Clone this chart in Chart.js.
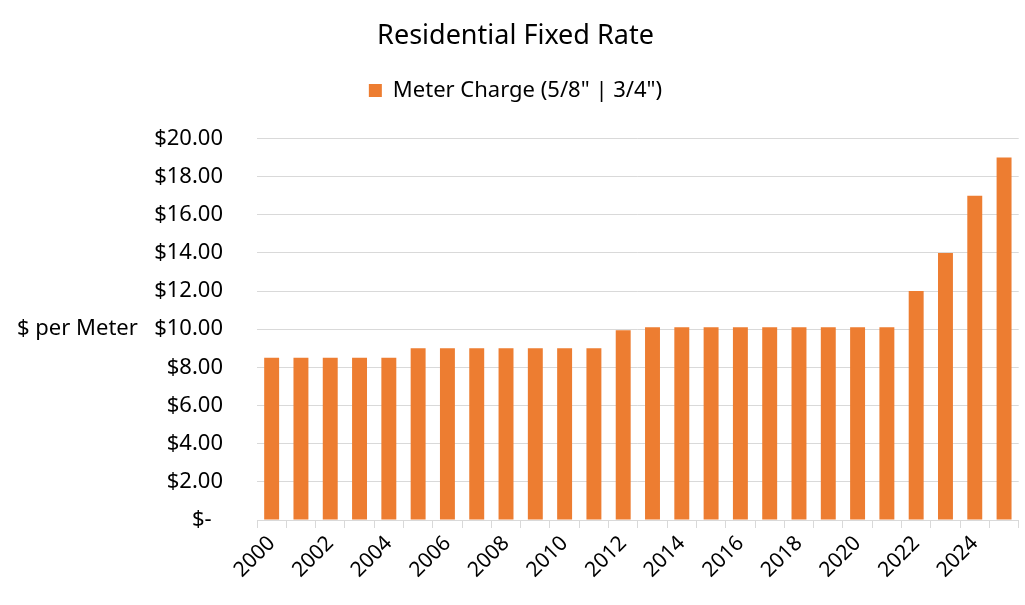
<!DOCTYPE html>
<html>
<head>
<meta charset="utf-8">
<script src="https://cdn.jsdelivr.net/npm/chart.js@4.4.1/dist/chart.umd.min.js"></script>
<style>
  html, body { margin: 0; padding: 0; background: #fff; }
  #wrap { width: 1025px; height: 605px; position: relative; }
</style>
</head>
<body>
<div id="wrap"><canvas id="rateChart"></canvas></div>
<script>
// chart data
const years = ['2000','2001','2002','2003','2004','2005','2006','2007','2008','2009','2010','2011','2012',
               '2013','2014','2015','2016','2017','2018','2019','2020','2021','2022','2023','2024','2025'];
const meterCharge = [8.50, 8.50, 8.50, 8.50, 8.50, 9.00, 9.00, 9.00, 9.00, 9.00, 9.00, 9.00, 9.95,
                     10.10, 10.10, 10.10, 10.10, 10.10, 10.10, 10.10, 10.10, 10.10, 12.00, 14.00, 17.00, 19.00];
const yTicks = [0, 2, 4, 6, 8, 10, 12, 14, 16, 18, 20];

const FONT = "'Noto Sans', sans-serif";
const ORANGE = '#ED7D31';
const GRID = '#d9d9d9';

// horizontal y-axis title, Excel style
const yTitlePlugin = {
    id: 'yTitle',
    afterDraw(chart) {
        const { ctx, chartArea } = chart;
        ctx.save();
        ctx.font = '22px ' + FONT;
        ctx.fillStyle = '#000';
        ctx.textAlign = 'left';
        ctx.textBaseline = 'middle';
        ctx.fillText('$ per Meter', 17, (chartArea.top + chartArea.bottom) / 2);
        ctx.restore();
    }
};

// extra gap under the legend
const legendGapPlugin = {
    id: 'legendGap',
    beforeInit(chart) {
        const origFit = chart.legend.fit;
        chart.legend.fit = function () {
            origFit.bind(chart.legend)();
            this.height += 27;
        };
    }
};

new Chart(document.getElementById('rateChart'), {
    type: 'bar',
    data: {
        labels: years,
        datasets: [{
            label: 'Meter Charge (5/8" | 3/4")',
            data: meterCharge,
            backgroundColor: ORANGE,
            barPercentage: 0.51,
            categoryPercentage: 1.0
        }]
    },
    options: {
        responsive: true,
        maintainAspectRatio: false,
        animation: false,
        layout: { padding: { left: 12, right: 6, top: 0, bottom: 0 } },
        plugins: {
            title: {
                display: true,
                text: 'Residential Fixed Rate',
                color: '#000',
                font: { family: FONT, size: 27, weight: 'normal' },
                padding: { top: 20, bottom: 17 }
            },
            legend: {
                display: true,
                labels: {
                    color: '#000',
                    font: { family: FONT, size: 22 },
                    boxWidth: 13,
                    boxHeight: 13,
                    padding: 10
                }
            },
            tooltip: { enabled: false }
        },
        scales: {
            x: {
                grid: {
                    display: true,
                    drawOnChartArea: false,
                    drawTicks: true,
                    tickLength: 8,
                    color: GRID,
                    offset: true
                },
                border: { color: GRID },
                ticks: {
                    color: '#000',
                    font: { family: FONT, size: 21 },
                    maxRotation: 45,
                    minRotation: 45,
                    autoSkip: false,
                    callback: (v, i) => (i % 2 === 0 ? years[i] : '')
                },
                afterFit: (scale) => { scale.height = 85; }
            },
            y: {
                min: 0,
                max: 20,
                afterBuildTicks: (scale) => { scale.ticks = yTicks.map(v => ({ value: v })); },
                grid: { color: GRID, drawTicks: false },
                border: { display: false },
                ticks: {
                    color: '#000',
                    font: { family: FONT, size: 22 },
                    padding: 34,
                    callback: (v) => (v === 0 ? '$-  ' : '$' + v.toFixed(2))
                },
                afterFit: (scale) => { scale.width = 245; }
            }
        }
    },
    plugins: [yTitlePlugin, legendGapPlugin]
});
</script>
</body>
</html>
